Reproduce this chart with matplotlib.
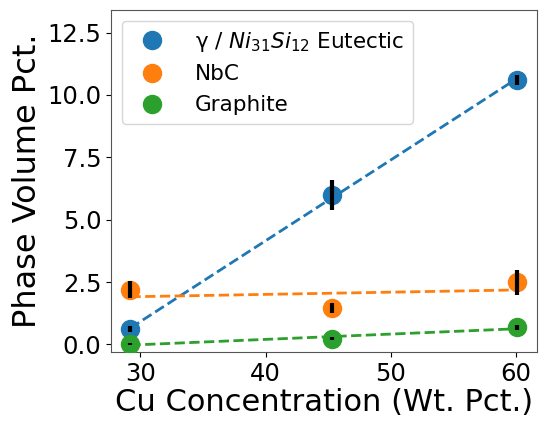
import numpy as np
import matplotlib
matplotlib.use("Agg")
import matplotlib.pyplot as plt

# ---- data ----
cu = [29.2, 45.3, 60.1]

eutectic = [0.6, 6.0, 10.6]
eutectic_err = [0.12, 0.6, 0.2]

nbc = [2.2, 1.45, 2.5]
nbc_err = [0.35, 0.2, 0.5]

graphite = [0.02, 0.22, 0.68]
graphite_err = [0.05, 0.06, 0.1]

series = [
    (r"γ / $Ni_{31}Si_{12}$ Eutectic", eutectic, eutectic_err, "#1f77b4"),
    ("NbC", nbc, nbc_err, "#ff7f0e"),
    ("Graphite", graphite, graphite_err, "#2ca02c"),
]

fig, ax = plt.subplots(figsize=(5.42, 4.23), dpi=100)

x = np.array(cu)
for label, vals, err, col in series:
    ax.plot(cu, vals, "o", color=col, ms=13, label=label, zorder=3)
    # black error bars drawn over the markers
    ax.errorbar(cu, vals, yerr=err, fmt="none", ecolor="black",
                elinewidth=3, capsize=0, zorder=4)
    # linear fit, dashed
    m, b = np.polyfit(x, vals, 1)
    ax.plot(x, m * x + b, "--", color=col, lw=2, zorder=2)

ax.set_ylim(-0.3, 13.4)
ax.set_yticks([0, 2.5, 5, 7.5, 10, 12.5])
ax.set_xticks([30, 40, 50, 60])
ax.tick_params(labelsize=17.5)
ax.set_xlabel("Cu Concentration (Wt. Pct.)", fontsize=22, labelpad=2)
ax.set_ylabel("Phase Volume Pct.", fontsize=23, labelpad=3)

ax.legend(loc="upper left", fontsize=15.5, handletextpad=1.0)

for s in ax.spines.values():
    s.set_color("#555555")

plt.subplots_adjust(left=0.205, right=0.99, top=0.976, bottom=0.168)
plt.savefig("out.png", dpi=100)
